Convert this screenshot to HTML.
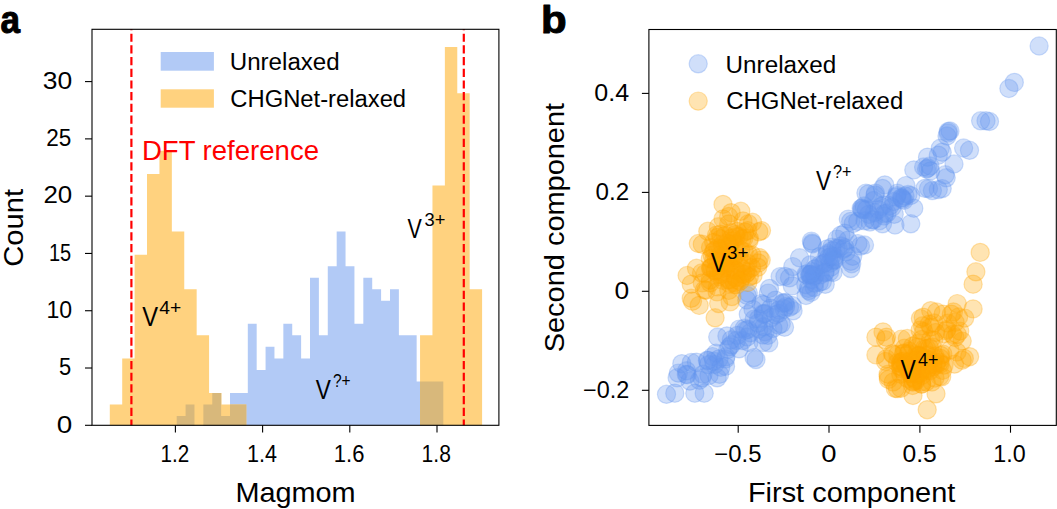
<!DOCTYPE html>
<html><head><meta charset="utf-8"><style>
html,body{margin:0;padding:0;background:#fff;}
svg{display:block;}
text{font-family:"Liberation Sans",sans-serif;}
</style></head><body>
<svg width="1057" height="509" viewBox="0 0 1057 509">
<rect width="1057" height="509" fill="#fff"/>
<defs><clipPath id="ca"><rect x="92.00" y="29.30" width="406.90" height="396.00"/></clipPath>
<clipPath id="cb"><rect x="648.90" y="29.50" width="407.40" height="395.90"/></clipPath></defs>
<g clip-path="url(#ca)"><path d="M176.70 416.05H185.59V426.30H176.70ZM185.59 404.52H194.47V426.30H185.59ZM203.36 404.52H212.25V426.30H203.36ZM212.25 392.99H221.13V426.30H212.25ZM221.13 416.05H230.02V426.30H221.13ZM230.02 392.99H238.91V426.30H230.02ZM238.91 392.99H247.80V426.30H238.91ZM247.80 323.81H256.68V426.30H247.80ZM256.68 369.93H265.57V426.30H256.68ZM265.57 346.87H274.46V426.30H265.57ZM274.46 358.40H283.34V426.30H274.46ZM283.34 323.81H292.23V426.30H283.34ZM292.23 335.34H301.12V426.30H292.23ZM301.12 358.40H310.00V426.30H301.12ZM310.00 277.69H318.89V426.30H310.00ZM318.89 335.34H327.78V426.30H318.89ZM327.78 266.16H336.67V426.30H327.78ZM336.67 231.57H345.55V426.30H336.67ZM345.55 266.16H354.44V426.30H345.55ZM354.44 323.81H363.33V426.30H354.44ZM363.33 277.69H372.21V426.30H363.33ZM372.21 289.22H381.10V426.30H372.21ZM381.10 300.75H389.99V426.30H381.10ZM389.99 289.22H398.88V426.30H389.99ZM398.88 335.34H407.76V426.30H398.88ZM407.76 335.34H416.65V426.30H407.76ZM416.65 381.46H425.54V426.30H416.65ZM425.54 381.46H434.42V426.30H425.54ZM434.42 381.46H443.31V426.30H434.42Z" fill="#b2caf6"/><path d="M109.80 404.52H122.21V426.30H109.80ZM122.21 358.40H134.62V426.30H122.21ZM134.62 254.63H147.03V426.30H134.62ZM147.03 173.92H159.44V426.30H147.03ZM159.44 150.86H171.85V426.30H159.44ZM171.85 231.57H184.26V426.30H171.85ZM184.26 289.22H196.67V426.30H184.26ZM196.67 335.34H209.08V426.30H196.67ZM209.08 392.99H221.49V426.30H209.08ZM221.49 404.52H233.90V426.30H221.49ZM233.90 404.52H246.31V426.30H233.90ZM420.05 335.34H432.46V426.30H420.05ZM432.46 185.45H444.87V426.30H432.46ZM444.87 47.09H457.28V426.30H444.87ZM457.28 93.21H469.69V426.30H457.28ZM469.69 289.22H482.10V426.30H469.69Z" fill="#ffd27f"/><path d="M176.70 416.05H184.26V426.30H176.70ZM184.26 416.05H185.59V426.30H184.26ZM185.59 404.52H194.47V426.30H185.59ZM203.36 404.52H209.08V426.30H203.36ZM209.08 404.52H212.25V426.30H209.08ZM212.25 392.99H221.13V426.30H212.25ZM221.13 416.05H221.49V426.30H221.13ZM221.49 416.05H230.02V426.30H221.49ZM230.02 404.52H233.90V426.30H230.02ZM233.90 404.52H238.91V426.30H233.90ZM238.91 404.52H246.31V426.30H238.91ZM420.05 381.46H425.54V426.30H420.05ZM425.54 381.46H432.46V426.30H425.54ZM432.46 381.46H434.42V426.30H432.46ZM434.42 381.46H443.31V426.30H434.42Z" fill="#d8b87b"/></g>
<line x1="131.4" y1="427.6" x2="131.4" y2="20" stroke="#ff0000" stroke-width="2.2" stroke-dasharray="8.2 3.49" clip-path="url(#ca)"/>
<line x1="463.8" y1="427.6" x2="463.8" y2="20" stroke="#ff0000" stroke-width="2.2" stroke-dasharray="8.2 3.49" clip-path="url(#ca)"/>
<rect x="92.00" y="29.30" width="406.90" height="396.00" stroke="#000" stroke-width="1.1" fill="none"/>
<line x1="85.00" y1="425.30" x2="92.00" y2="425.30" stroke="#000" stroke-width="1.1"/>
<text x="56.89" y="432.50" font-size="23.00" textLength="15.49" lengthAdjust="spacingAndGlyphs" fill="#000" >0</text>
<line x1="85.00" y1="368.01" x2="92.00" y2="368.01" stroke="#000" stroke-width="1.1"/>
<text x="59.12" y="375.21" font-size="23.00" textLength="12.18" lengthAdjust="spacingAndGlyphs" fill="#000" >5</text>
<line x1="85.00" y1="310.73" x2="92.00" y2="310.73" stroke="#000" stroke-width="1.1"/>
<text x="46.47" y="317.93" font-size="23.00" textLength="25.65" lengthAdjust="spacingAndGlyphs" fill="#000" >10</text>
<line x1="85.00" y1="253.44" x2="92.00" y2="253.44" stroke="#000" stroke-width="1.1"/>
<text x="49.00" y="260.64" font-size="23.00" textLength="22.25" lengthAdjust="spacingAndGlyphs" fill="#000" >15</text>
<line x1="85.00" y1="196.16" x2="92.00" y2="196.16" stroke="#000" stroke-width="1.1"/>
<text x="43.40" y="203.36" font-size="23.00" textLength="28.83" lengthAdjust="spacingAndGlyphs" fill="#000" >20</text>
<line x1="85.00" y1="138.88" x2="92.00" y2="138.88" stroke="#000" stroke-width="1.1"/>
<text x="46.27" y="146.07" font-size="23.00" textLength="25.08" lengthAdjust="spacingAndGlyphs" fill="#000" >25</text>
<line x1="85.00" y1="81.59" x2="92.00" y2="81.59" stroke="#000" stroke-width="1.1"/>
<text x="42.81" y="88.79" font-size="23.00" textLength="29.45" lengthAdjust="spacingAndGlyphs" fill="#000" >30</text>
<line x1="175.40" y1="425.30" x2="175.40" y2="432.60" stroke="#000" stroke-width="1.1"/>
<text x="160.45" y="462.20" font-size="23.00" textLength="28.68" lengthAdjust="spacingAndGlyphs" fill="#000" >1.2</text>
<line x1="262.60" y1="425.30" x2="262.60" y2="432.60" stroke="#000" stroke-width="1.1"/>
<text x="247.09" y="462.20" font-size="23.00" textLength="29.91" lengthAdjust="spacingAndGlyphs" fill="#000" >1.4</text>
<line x1="349.80" y1="425.30" x2="349.80" y2="432.60" stroke="#000" stroke-width="1.1"/>
<text x="333.85" y="462.20" font-size="23.00" textLength="30.59" lengthAdjust="spacingAndGlyphs" fill="#000" >1.6</text>
<line x1="437.00" y1="425.30" x2="437.00" y2="432.60" stroke="#000" stroke-width="1.1"/>
<text x="421.62" y="462.20" font-size="23.00" textLength="29.28" lengthAdjust="spacingAndGlyphs" fill="#000" >1.8</text>
<text x="235.42" y="501.80" font-size="27.30" textLength="120.26" lengthAdjust="spacingAndGlyphs" fill="#000" >Magmom</text>
<text transform="translate(23.20,266.66) rotate(-90)" x="0" y="0" font-size="27.30" textLength="77.71" lengthAdjust="spacingAndGlyphs">Count</text>
<text x="0.55" y="32.90" font-size="38.50" textLength="19.53" lengthAdjust="spacingAndGlyphs" fill="#000" font-weight="bold"  stroke="#000" stroke-width="1.00" stroke-linejoin="round">a</text>
<rect x="160.7" y="52" width="53.2" height="18.7" fill="#b2caf6"/>
<rect x="160.7" y="89.3" width="53.2" height="18.4" fill="#ffd27f"/>
<text x="229.73" y="70.10" font-size="23.00" textLength="110.00" lengthAdjust="spacingAndGlyphs" fill="#000" >Unrelaxed</text>
<text x="230.31" y="106.90" font-size="23.00" textLength="175.81" lengthAdjust="spacingAndGlyphs" fill="#000" >CHGNet-relaxed</text>
<text x="141.93" y="159.70" font-size="28.00" textLength="177.07" lengthAdjust="spacingAndGlyphs" fill="#ff0000" >DFT reference</text>
<text x="142.18" y="325.60" font-size="27.30" textLength="15.83" lengthAdjust="spacingAndGlyphs" fill="#000" >V</text><text x="159.17" y="314.20" font-size="18.00" textLength="22.00" lengthAdjust="spacingAndGlyphs" fill="#000" >4+</text>
<text x="407.59" y="237.60" font-size="27.30" textLength="14.30" lengthAdjust="spacingAndGlyphs" fill="#000" >V</text><text x="424.62" y="225.60" font-size="18.00" textLength="20.80" lengthAdjust="spacingAndGlyphs" fill="#000" >3+</text>
<text x="315.69" y="399.30" font-size="27.30" textLength="15.12" lengthAdjust="spacingAndGlyphs" fill="#000" >V</text><text x="332.88" y="386.80" font-size="18.00" textLength="17.70" lengthAdjust="spacingAndGlyphs" fill="#000" >?+</text>
<g clip-path="url(#cb)" fill="#6495ed" fill-opacity="0.30" stroke="#6495ed" stroke-opacity="0.30" stroke-width="1.2"><circle cx="1039.1" cy="46.0" r="9.1"/><circle cx="1014.3" cy="82.4" r="9.1"/><circle cx="1008.9" cy="88.5" r="9.1"/><circle cx="980.6" cy="120.8" r="9.1"/><circle cx="986.0" cy="120.8" r="9.1"/><circle cx="989.5" cy="121.5" r="9.1"/><circle cx="948.3" cy="131.4" r="9.1"/><circle cx="947.0" cy="136.0" r="9.1"/><circle cx="963.6" cy="148.0" r="9.1"/><circle cx="969.5" cy="150.3" r="9.1"/><circle cx="940.3" cy="148.3" r="9.1"/><circle cx="942.2" cy="152.2" r="9.1"/><circle cx="938.3" cy="155.2" r="9.1"/><circle cx="927.5" cy="157.2" r="9.1"/><circle cx="954.0" cy="164.0" r="9.1"/><circle cx="913.8" cy="169.9" r="9.1"/><circle cx="926.5" cy="169.0" r="9.1"/><circle cx="930.5" cy="170.9" r="9.1"/><circle cx="923.6" cy="167.0" r="9.1"/><circle cx="945.2" cy="174.8" r="9.1"/><circle cx="946.2" cy="177.8" r="9.1"/><circle cx="905.9" cy="185.6" r="9.1"/><circle cx="928.5" cy="188.6" r="9.1"/><circle cx="932.4" cy="190.6" r="9.1"/><circle cx="938.3" cy="189.6" r="9.1"/><circle cx="942.2" cy="188.6" r="9.1"/><circle cx="907.9" cy="194.5" r="9.1"/><circle cx="903.9" cy="200.4" r="9.1"/><circle cx="913.8" cy="208.2" r="9.1"/><circle cx="924.9" cy="188.4" r="9.1"/><circle cx="884.8" cy="184.9" r="9.1"/><circle cx="882.5" cy="188.4" r="9.1"/><circle cx="865.9" cy="193.1" r="9.1"/><circle cx="875.4" cy="193.1" r="9.1"/><circle cx="910.8" cy="195.5" r="9.1"/><circle cx="901.3" cy="197.8" r="9.1"/><circle cx="910.8" cy="223.8" r="9.1"/><circle cx="861.2" cy="208.4" r="9.1"/><circle cx="863.6" cy="209.6" r="9.1"/><circle cx="891.9" cy="207.3" r="9.1"/><circle cx="894.2" cy="214.3" r="9.1"/><circle cx="848.3" cy="219.1" r="9.1"/><circle cx="857.7" cy="221.4" r="9.1"/><circle cx="882.5" cy="223.8" r="9.1"/><circle cx="844.7" cy="233.2" r="9.1"/><circle cx="811.4" cy="241.1" r="9.1"/><circle cx="812.4" cy="244.0" r="9.1"/><circle cx="799.6" cy="257.8" r="9.1"/><circle cx="792.8" cy="266.6" r="9.1"/><circle cx="784.9" cy="276.4" r="9.1"/><circle cx="850.7" cy="268.6" r="9.1"/><circle cx="851.7" cy="263.7" r="9.1"/><circle cx="864.5" cy="245.0" r="9.1"/><circle cx="860.5" cy="246.0" r="9.1"/><circle cx="850.7" cy="221.4" r="9.1"/><circle cx="866.4" cy="209.6" r="9.1"/><circle cx="840.9" cy="235.2" r="9.1"/><circle cx="837.0" cy="239.1" r="9.1"/><circle cx="827.2" cy="248.9" r="9.1"/><circle cx="819.3" cy="256.8" r="9.1"/><circle cx="815.4" cy="268.6" r="9.1"/><circle cx="809.5" cy="274.5" r="9.1"/><circle cx="819.3" cy="282.3" r="9.1"/><circle cx="833.0" cy="272.5" r="9.1"/><circle cx="825.2" cy="284.3" r="9.1"/><circle cx="868.4" cy="193.9" r="9.1"/><circle cx="748.3" cy="293.1" r="9.1"/><circle cx="747.1" cy="295.5" r="9.1"/><circle cx="769.5" cy="288.4" r="9.1"/><circle cx="780.1" cy="276.6" r="9.1"/><circle cx="789.5" cy="277.8" r="9.1"/><circle cx="806.0" cy="274.2" r="9.1"/><circle cx="808.4" cy="288.4" r="9.1"/><circle cx="806.0" cy="295.5" r="9.1"/><circle cx="789.5" cy="307.3" r="9.1"/><circle cx="793.1" cy="310.8" r="9.1"/><circle cx="775.4" cy="300.2" r="9.1"/><circle cx="768.3" cy="293.1" r="9.1"/><circle cx="781.3" cy="323.8" r="9.1"/><circle cx="748.3" cy="314.3" r="9.1"/><circle cx="754.2" cy="319.1" r="9.1"/><circle cx="763.6" cy="314.3" r="9.1"/><circle cx="773.0" cy="328.5" r="9.1"/><circle cx="822.5" cy="281.3" r="9.1"/><circle cx="829.6" cy="271.9" r="9.1"/><circle cx="820.2" cy="264.8" r="9.1"/><circle cx="832.0" cy="250.7" r="9.1"/><circle cx="841.4" cy="245.9" r="9.1"/><circle cx="850.8" cy="261.3" r="9.1"/><circle cx="853.2" cy="223.5" r="9.1"/><circle cx="857.9" cy="243.6" r="9.1"/><circle cx="717.7" cy="337.0" r="9.1"/><circle cx="754.0" cy="357.6" r="9.1"/><circle cx="756.0" cy="359.6" r="9.1"/><circle cx="768.8" cy="342.9" r="9.1"/><circle cx="784.5" cy="327.2" r="9.1"/><circle cx="792.3" cy="305.5" r="9.1"/><circle cx="792.3" cy="285.9" r="9.1"/><circle cx="707.9" cy="360.6" r="9.1"/><circle cx="714.7" cy="364.5" r="9.1"/><circle cx="703.0" cy="374.3" r="9.1"/><circle cx="719.6" cy="374.3" r="9.1"/><circle cx="725.5" cy="366.4" r="9.1"/><circle cx="729.5" cy="346.8" r="9.1"/><circle cx="739.3" cy="329.1" r="9.1"/><circle cx="753.0" cy="309.5" r="9.1"/><circle cx="760.9" cy="303.6" r="9.1"/><circle cx="747.2" cy="337.0" r="9.1"/><circle cx="758.9" cy="329.1" r="9.1"/><circle cx="762.9" cy="335.0" r="9.1"/><circle cx="778.6" cy="325.2" r="9.1"/><circle cx="778.6" cy="313.4" r="9.1"/><circle cx="666.5" cy="394.3" r="9.1"/><circle cx="674.8" cy="393.2" r="9.1"/><circle cx="694.8" cy="393.2" r="9.1"/><circle cx="704.2" cy="393.2" r="9.1"/><circle cx="677.1" cy="377.8" r="9.1"/><circle cx="681.8" cy="363.7" r="9.1"/><circle cx="691.3" cy="362.5" r="9.1"/><circle cx="686.6" cy="370.8" r="9.1"/><circle cx="678.3" cy="373.1" r="9.1"/><circle cx="699.5" cy="380.2" r="9.1"/><circle cx="701.9" cy="377.8" r="9.1"/><circle cx="709.0" cy="375.5" r="9.1"/><circle cx="717.2" cy="377.8" r="9.1"/><circle cx="713.7" cy="361.3" r="9.1"/><circle cx="712.5" cy="356.6" r="9.1"/><circle cx="716.0" cy="353.1" r="9.1"/><circle cx="720.8" cy="367.2" r="9.1"/><circle cx="725.5" cy="359.0" r="9.1"/><circle cx="727.8" cy="349.5" r="9.1"/><circle cx="731.4" cy="344.8" r="9.1"/><circle cx="737.3" cy="335.4" r="9.1"/><circle cx="744.3" cy="328.3" r="9.1"/><circle cx="749.0" cy="342.5" r="9.1"/><circle cx="758.5" cy="318.9" r="9.1"/><circle cx="763.2" cy="342.5" r="9.1"/><circle cx="767.9" cy="335.4" r="9.1"/><circle cx="746.7" cy="300.0" r="9.1"/><circle cx="763.2" cy="304.7" r="9.1"/><circle cx="834.4" cy="260.1" r="9.1"/><circle cx="836.1" cy="248.3" r="9.1"/><circle cx="814.3" cy="269.3" r="9.1"/><circle cx="810.9" cy="292.4" r="9.1"/><circle cx="838.2" cy="248.5" r="9.1"/><circle cx="820.2" cy="274.9" r="9.1"/><circle cx="812.5" cy="271.6" r="9.1"/><circle cx="830.7" cy="267.2" r="9.1"/><circle cx="847.9" cy="240.3" r="9.1"/><circle cx="827.5" cy="253.5" r="9.1"/><circle cx="813.7" cy="276.3" r="9.1"/><circle cx="833.7" cy="260.6" r="9.1"/><circle cx="805.8" cy="284.6" r="9.1"/><circle cx="823.7" cy="263.7" r="9.1"/><circle cx="833.8" cy="259.2" r="9.1"/><circle cx="825.3" cy="262.6" r="9.1"/><circle cx="810.2" cy="274.9" r="9.1"/><circle cx="810.6" cy="274.5" r="9.1"/><circle cx="808.9" cy="290.6" r="9.1"/><circle cx="811.5" cy="279.6" r="9.1"/><circle cx="844.9" cy="247.7" r="9.1"/><circle cx="843.4" cy="249.2" r="9.1"/><circle cx="831.8" cy="247.1" r="9.1"/><circle cx="829.9" cy="263.2" r="9.1"/><circle cx="852.7" cy="256.3" r="9.1"/><circle cx="826.8" cy="255.0" r="9.1"/><circle cx="824.9" cy="272.0" r="9.1"/><circle cx="814.7" cy="283.1" r="9.1"/><circle cx="824.9" cy="272.8" r="9.1"/><circle cx="828.7" cy="257.6" r="9.1"/><circle cx="831.7" cy="256.3" r="9.1"/><circle cx="806.7" cy="275.2" r="9.1"/><circle cx="814.9" cy="275.4" r="9.1"/><circle cx="814.2" cy="287.5" r="9.1"/><circle cx="811.3" cy="274.0" r="9.1"/><circle cx="810.1" cy="265.0" r="9.1"/><circle cx="834.4" cy="256.8" r="9.1"/><circle cx="846.0" cy="251.9" r="9.1"/><circle cx="782.6" cy="303.3" r="9.1"/><circle cx="739.1" cy="348.8" r="9.1"/><circle cx="784.4" cy="302.4" r="9.1"/><circle cx="736.4" cy="340.5" r="9.1"/><circle cx="763.3" cy="313.5" r="9.1"/><circle cx="748.1" cy="329.4" r="9.1"/><circle cx="742.6" cy="340.6" r="9.1"/><circle cx="784.0" cy="308.8" r="9.1"/><circle cx="763.8" cy="326.8" r="9.1"/><circle cx="775.6" cy="314.7" r="9.1"/><circle cx="750.2" cy="332.8" r="9.1"/><circle cx="726.9" cy="335.9" r="9.1"/><circle cx="765.0" cy="313.5" r="9.1"/><circle cx="765.1" cy="331.7" r="9.1"/><circle cx="745.5" cy="330.3" r="9.1"/><circle cx="770.9" cy="317.8" r="9.1"/><circle cx="758.1" cy="323.2" r="9.1"/><circle cx="785.7" cy="306.6" r="9.1"/><circle cx="785.4" cy="303.0" r="9.1"/><circle cx="770.7" cy="308.2" r="9.1"/><circle cx="731.3" cy="339.8" r="9.1"/><circle cx="778.6" cy="310.0" r="9.1"/><circle cx="883.7" cy="204.9" r="9.1"/><circle cx="873.7" cy="200.5" r="9.1"/><circle cx="865.0" cy="220.8" r="9.1"/><circle cx="873.6" cy="219.7" r="9.1"/><circle cx="872.4" cy="219.7" r="9.1"/><circle cx="884.5" cy="213.7" r="9.1"/><circle cx="862.2" cy="209.5" r="9.1"/><circle cx="879.5" cy="220.7" r="9.1"/><circle cx="878.6" cy="209.6" r="9.1"/><circle cx="896.9" cy="195.6" r="9.1"/><circle cx="881.3" cy="206.4" r="9.1"/><circle cx="896.4" cy="197.0" r="9.1"/><circle cx="897.4" cy="193.3" r="9.1"/><circle cx="874.4" cy="212.6" r="9.1"/><circle cx="902.4" cy="199.4" r="9.1"/><circle cx="893.8" cy="201.5" r="9.1"/><circle cx="890.0" cy="205.7" r="9.1"/><circle cx="868.8" cy="214.4" r="9.1"/><circle cx="686.3" cy="374.4" r="9.1"/><circle cx="687.2" cy="374.7" r="9.1"/><circle cx="719.0" cy="358.9" r="9.1"/><circle cx="696.4" cy="362.2" r="9.1"/><circle cx="707.4" cy="360.2" r="9.1"/><circle cx="725.9" cy="356.8" r="9.1"/><circle cx="708.5" cy="364.6" r="9.1"/><circle cx="689.9" cy="381.1" r="9.1"/><circle cx="862.0" cy="208.0" r="9.1"/><circle cx="864.0" cy="206.0" r="9.1"/><circle cx="887.0" cy="213.0" r="9.1"/><circle cx="884.0" cy="216.0" r="9.1"/><circle cx="902.0" cy="198.0" r="9.1"/><circle cx="905.0" cy="196.0" r="9.1"/><circle cx="875.0" cy="195.0" r="9.1"/><circle cx="895.0" cy="225.0" r="9.1"/><circle cx="870.0" cy="222.0" r="9.1"/><circle cx="812.0" cy="243.0" r="9.1"/><circle cx="948.0" cy="133.0" r="9.1"/><circle cx="950.0" cy="131.0" r="9.1"/><circle cx="928.0" cy="168.0" r="9.1"/><circle cx="930.0" cy="166.0" r="9.1"/></g>
<g clip-path="url(#cb)" fill="#ffa500" fill-opacity="0.30" stroke="#ffa500" stroke-opacity="0.30" stroke-width="1.2"><circle cx="723.0" cy="204.4" r="9.1"/><circle cx="740.8" cy="211.3" r="9.1"/><circle cx="731.2" cy="212.7" r="9.1"/><circle cx="723.0" cy="218.9" r="9.1"/><circle cx="752.5" cy="222.3" r="9.1"/><circle cx="707.8" cy="231.3" r="9.1"/><circle cx="761.5" cy="230.6" r="9.1"/><circle cx="702.3" cy="244.3" r="9.1"/><circle cx="687.1" cy="275.5" r="9.1"/><circle cx="698.3" cy="243.5" r="9.1"/><circle cx="696.5" cy="268.3" r="9.1"/><circle cx="691.2" cy="284.2" r="9.1"/><circle cx="691.2" cy="298.3" r="9.1"/><circle cx="699.2" cy="305.4" r="9.1"/><circle cx="715.1" cy="317.8" r="9.1"/><circle cx="718.6" cy="303.6" r="9.1"/><circle cx="730.1" cy="301.9" r="9.1"/><circle cx="731.9" cy="296.6" r="9.1"/><circle cx="758.4" cy="263.0" r="9.1"/><circle cx="753.1" cy="275.3" r="9.1"/><circle cx="747.8" cy="282.4" r="9.1"/><circle cx="759.3" cy="257.7" r="9.1"/><circle cx="758.9" cy="231.8" r="9.1"/><circle cx="761.2" cy="260.1" r="9.1"/><circle cx="757.7" cy="267.2" r="9.1"/><circle cx="749.4" cy="276.6" r="9.1"/><circle cx="692.5" cy="301.2" r="9.1"/><circle cx="980.2" cy="252.4" r="9.1"/><circle cx="975.9" cy="271.8" r="9.1"/><circle cx="973.1" cy="284.2" r="9.1"/><circle cx="973.1" cy="308.9" r="9.1"/><circle cx="957.2" cy="303.6" r="9.1"/><circle cx="930.7" cy="310.7" r="9.1"/><circle cx="943.1" cy="314.2" r="9.1"/><circle cx="883.0" cy="331.9" r="9.1"/><circle cx="886.5" cy="337.2" r="9.1"/><circle cx="875.9" cy="337.2" r="9.1"/><circle cx="875.9" cy="354.9" r="9.1"/><circle cx="969.6" cy="356.7" r="9.1"/><circle cx="964.3" cy="358.4" r="9.1"/><circle cx="920.1" cy="330.1" r="9.1"/><circle cx="927.2" cy="409.7" r="9.1"/><circle cx="913.0" cy="395.5" r="9.1"/><circle cx="936.0" cy="393.8" r="9.1"/><circle cx="895.3" cy="388.5" r="9.1"/><circle cx="964.7" cy="318.1" r="9.1"/><circle cx="922.6" cy="325.8" r="9.1"/><circle cx="885.5" cy="339.8" r="9.1"/><circle cx="907.3" cy="338.5" r="9.1"/><circle cx="962.2" cy="341.1" r="9.1"/><circle cx="962.2" cy="360.2" r="9.1"/><circle cx="954.5" cy="364.1" r="9.1"/><circle cx="893.2" cy="382.0" r="9.1"/><circle cx="900.9" cy="388.3" r="9.1"/><circle cx="941.7" cy="376.8" r="9.1"/><circle cx="888.1" cy="374.3" r="9.1"/><circle cx="885.5" cy="361.5" r="9.1"/><circle cx="950.0" cy="350.0" r="9.1"/><circle cx="957.0" cy="352.0" r="9.1"/><circle cx="722.6" cy="280.4" r="9.1"/><circle cx="706.2" cy="290.3" r="9.1"/><circle cx="728.8" cy="290.4" r="9.1"/><circle cx="713.7" cy="242.4" r="9.1"/><circle cx="731.2" cy="232.6" r="9.1"/><circle cx="732.5" cy="241.0" r="9.1"/><circle cx="737.3" cy="231.4" r="9.1"/><circle cx="717.1" cy="291.9" r="9.1"/><circle cx="729.6" cy="283.6" r="9.1"/><circle cx="736.2" cy="270.3" r="9.1"/><circle cx="710.5" cy="267.9" r="9.1"/><circle cx="702.2" cy="282.9" r="9.1"/><circle cx="717.5" cy="237.4" r="9.1"/><circle cx="734.5" cy="282.6" r="9.1"/><circle cx="717.3" cy="286.9" r="9.1"/><circle cx="743.8" cy="238.5" r="9.1"/><circle cx="710.9" cy="267.9" r="9.1"/><circle cx="735.1" cy="270.2" r="9.1"/><circle cx="705.3" cy="273.6" r="9.1"/><circle cx="734.8" cy="284.4" r="9.1"/><circle cx="744.2" cy="251.6" r="9.1"/><circle cx="749.1" cy="240.7" r="9.1"/><circle cx="701.5" cy="273.0" r="9.1"/><circle cx="711.8" cy="267.2" r="9.1"/><circle cx="752.0" cy="255.0" r="9.1"/><circle cx="713.9" cy="260.1" r="9.1"/><circle cx="736.1" cy="236.7" r="9.1"/><circle cx="720.9" cy="238.8" r="9.1"/><circle cx="736.4" cy="284.8" r="9.1"/><circle cx="720.7" cy="254.5" r="9.1"/><circle cx="729.7" cy="244.2" r="9.1"/><circle cx="713.6" cy="251.8" r="9.1"/><circle cx="725.2" cy="235.4" r="9.1"/><circle cx="741.4" cy="268.2" r="9.1"/><circle cx="716.5" cy="235.1" r="9.1"/><circle cx="742.0" cy="238.7" r="9.1"/><circle cx="704.5" cy="289.8" r="9.1"/><circle cx="714.8" cy="250.2" r="9.1"/><circle cx="745.8" cy="270.9" r="9.1"/><circle cx="710.3" cy="258.7" r="9.1"/><circle cx="748.6" cy="254.8" r="9.1"/><circle cx="739.1" cy="236.4" r="9.1"/><circle cx="740.0" cy="281.2" r="9.1"/><circle cx="745.4" cy="274.5" r="9.1"/><circle cx="720.4" cy="234.2" r="9.1"/><circle cx="728.5" cy="280.0" r="9.1"/><circle cx="710.5" cy="247.6" r="9.1"/><circle cx="729.5" cy="279.4" r="9.1"/><circle cx="749.3" cy="238.3" r="9.1"/><circle cx="710.1" cy="282.8" r="9.1"/><circle cx="735.4" cy="277.6" r="9.1"/><circle cx="721.7" cy="272.3" r="9.1"/><circle cx="710.1" cy="280.1" r="9.1"/><circle cx="741.7" cy="277.6" r="9.1"/><circle cx="724.5" cy="255.0" r="9.1"/><circle cx="748.3" cy="223.8" r="9.1"/><circle cx="728.7" cy="223.9" r="9.1"/><circle cx="743.0" cy="220.9" r="9.1"/><circle cx="747.7" cy="230.6" r="9.1"/><circle cx="728.7" cy="216.5" r="9.1"/><circle cx="744.7" cy="231.9" r="9.1"/><circle cx="718.4" cy="226.8" r="9.1"/><circle cx="740.7" cy="250.0" r="9.1"/><circle cx="737.3" cy="279.8" r="9.1"/><circle cx="727.6" cy="252.2" r="9.1"/><circle cx="733.1" cy="260.0" r="9.1"/><circle cx="720.1" cy="266.0" r="9.1"/><circle cx="728.8" cy="246.4" r="9.1"/><circle cx="734.5" cy="243.8" r="9.1"/><circle cx="718.8" cy="276.6" r="9.1"/><circle cx="721.0" cy="274.1" r="9.1"/><circle cx="747.8" cy="263.4" r="9.1"/><circle cx="728.8" cy="252.3" r="9.1"/><circle cx="716.1" cy="260.5" r="9.1"/><circle cx="747.3" cy="272.5" r="9.1"/><circle cx="720.6" cy="248.9" r="9.1"/><circle cx="725.5" cy="263.8" r="9.1"/><circle cx="728.7" cy="262.8" r="9.1"/><circle cx="734.3" cy="256.1" r="9.1"/><circle cx="730.6" cy="262.7" r="9.1"/><circle cx="730.1" cy="266.5" r="9.1"/><circle cx="751.6" cy="267.7" r="9.1"/><circle cx="731.6" cy="238.1" r="9.1"/><circle cx="735.3" cy="234.7" r="9.1"/><circle cx="715.5" cy="271.1" r="9.1"/><circle cx="738.8" cy="258.1" r="9.1"/><circle cx="712.2" cy="255.2" r="9.1"/><circle cx="723.5" cy="268.3" r="9.1"/><circle cx="722.4" cy="244.8" r="9.1"/><circle cx="730.4" cy="257.7" r="9.1"/><circle cx="718.3" cy="261.5" r="9.1"/><circle cx="718.3" cy="274.5" r="9.1"/><circle cx="742.7" cy="274.1" r="9.1"/><circle cx="725.8" cy="266.7" r="9.1"/><circle cx="729.5" cy="254.9" r="9.1"/><circle cx="727.3" cy="243.1" r="9.1"/><circle cx="715.1" cy="270.3" r="9.1"/><circle cx="728.9" cy="262.8" r="9.1"/><circle cx="722.4" cy="262.3" r="9.1"/><circle cx="735.3" cy="255.1" r="9.1"/><circle cx="742.3" cy="262.7" r="9.1"/><circle cx="717.7" cy="247.9" r="9.1"/><circle cx="912.2" cy="377.2" r="9.1"/><circle cx="940.8" cy="355.4" r="9.1"/><circle cx="929.5" cy="347.8" r="9.1"/><circle cx="921.5" cy="381.9" r="9.1"/><circle cx="888.4" cy="379.4" r="9.1"/><circle cx="915.9" cy="360.0" r="9.1"/><circle cx="933.0" cy="366.9" r="9.1"/><circle cx="933.7" cy="340.2" r="9.1"/><circle cx="922.3" cy="369.0" r="9.1"/><circle cx="914.8" cy="373.5" r="9.1"/><circle cx="921.5" cy="339.5" r="9.1"/><circle cx="924.3" cy="348.6" r="9.1"/><circle cx="897.3" cy="388.6" r="9.1"/><circle cx="897.5" cy="362.7" r="9.1"/><circle cx="935.0" cy="378.1" r="9.1"/><circle cx="921.6" cy="384.2" r="9.1"/><circle cx="915.7" cy="372.8" r="9.1"/><circle cx="939.7" cy="376.4" r="9.1"/><circle cx="927.6" cy="359.8" r="9.1"/><circle cx="922.0" cy="359.2" r="9.1"/><circle cx="934.6" cy="358.2" r="9.1"/><circle cx="915.7" cy="381.1" r="9.1"/><circle cx="918.2" cy="355.6" r="9.1"/><circle cx="940.2" cy="358.2" r="9.1"/><circle cx="914.4" cy="378.5" r="9.1"/><circle cx="886.3" cy="358.8" r="9.1"/><circle cx="942.5" cy="370.4" r="9.1"/><circle cx="921.9" cy="375.5" r="9.1"/><circle cx="930.1" cy="370.6" r="9.1"/><circle cx="912.6" cy="346.2" r="9.1"/><circle cx="903.9" cy="352.9" r="9.1"/><circle cx="908.0" cy="362.3" r="9.1"/><circle cx="909.3" cy="370.5" r="9.1"/><circle cx="909.6" cy="351.3" r="9.1"/><circle cx="944.1" cy="365.1" r="9.1"/><circle cx="930.6" cy="339.5" r="9.1"/><circle cx="942.9" cy="354.1" r="9.1"/><circle cx="917.6" cy="347.1" r="9.1"/><circle cx="912.6" cy="385.5" r="9.1"/><circle cx="940.3" cy="363.9" r="9.1"/><circle cx="936.2" cy="362.9" r="9.1"/><circle cx="909.4" cy="368.3" r="9.1"/><circle cx="897.7" cy="354.3" r="9.1"/><circle cx="932.0" cy="382.0" r="9.1"/><circle cx="939.6" cy="362.2" r="9.1"/><circle cx="888.2" cy="376.7" r="9.1"/><circle cx="900.7" cy="374.2" r="9.1"/><circle cx="909.6" cy="373.9" r="9.1"/><circle cx="901.6" cy="364.1" r="9.1"/><circle cx="919.7" cy="373.5" r="9.1"/><circle cx="903.7" cy="353.7" r="9.1"/><circle cx="901.4" cy="339.1" r="9.1"/><circle cx="912.8" cy="382.1" r="9.1"/><circle cx="932.3" cy="346.9" r="9.1"/><circle cx="893.3" cy="354.6" r="9.1"/><circle cx="936.2" cy="364.8" r="9.1"/><circle cx="926.2" cy="381.8" r="9.1"/><circle cx="935.0" cy="356.0" r="9.1"/><circle cx="901.5" cy="361.7" r="9.1"/><circle cx="917.3" cy="343.6" r="9.1"/><circle cx="935.7" cy="332.5" r="9.1"/><circle cx="923.2" cy="317.2" r="9.1"/><circle cx="936.5" cy="312.0" r="9.1"/><circle cx="923.7" cy="331.5" r="9.1"/><circle cx="934.1" cy="323.0" r="9.1"/><circle cx="953.4" cy="311.9" r="9.1"/><circle cx="946.2" cy="330.8" r="9.1"/><circle cx="951.3" cy="314.2" r="9.1"/><circle cx="920.4" cy="318.6" r="9.1"/><circle cx="943.8" cy="333.6" r="9.1"/><circle cx="946.9" cy="329.5" r="9.1"/><circle cx="959.8" cy="331.1" r="9.1"/><circle cx="930.8" cy="327.1" r="9.1"/><circle cx="947.6" cy="323.1" r="9.1"/><circle cx="955.0" cy="337.5" r="9.1"/><circle cx="929.3" cy="324.2" r="9.1"/><circle cx="958.6" cy="317.0" r="9.1"/><circle cx="957.2" cy="334.3" r="9.1"/><circle cx="955.1" cy="322.3" r="9.1"/><circle cx="952.6" cy="334.5" r="9.1"/><circle cx="924.7" cy="369.2" r="9.1"/><circle cx="905.2" cy="364.8" r="9.1"/><circle cx="911.4" cy="371.0" r="9.1"/><circle cx="921.9" cy="383.7" r="9.1"/><circle cx="927.8" cy="368.4" r="9.1"/><circle cx="916.9" cy="373.7" r="9.1"/><circle cx="906.0" cy="364.6" r="9.1"/><circle cx="910.9" cy="364.5" r="9.1"/><circle cx="915.6" cy="379.8" r="9.1"/><circle cx="912.6" cy="381.2" r="9.1"/><circle cx="900.4" cy="363.0" r="9.1"/><circle cx="910.4" cy="373.7" r="9.1"/><circle cx="926.6" cy="348.4" r="9.1"/><circle cx="901.1" cy="368.7" r="9.1"/><circle cx="904.4" cy="348.3" r="9.1"/><circle cx="926.5" cy="370.4" r="9.1"/><circle cx="919.4" cy="359.8" r="9.1"/><circle cx="926.4" cy="362.4" r="9.1"/><circle cx="927.3" cy="355.0" r="9.1"/><circle cx="901.9" cy="367.3" r="9.1"/><circle cx="903.9" cy="372.4" r="9.1"/><circle cx="916.4" cy="354.8" r="9.1"/><circle cx="913.9" cy="361.1" r="9.1"/><circle cx="924.9" cy="358.0" r="9.1"/><circle cx="907.3" cy="378.3" r="9.1"/><circle cx="913.8" cy="367.4" r="9.1"/><circle cx="932.9" cy="363.6" r="9.1"/><circle cx="900.3" cy="366.3" r="9.1"/><circle cx="918.9" cy="355.9" r="9.1"/><circle cx="921.7" cy="356.7" r="9.1"/><circle cx="911.2" cy="367.3" r="9.1"/><circle cx="921.0" cy="361.3" r="9.1"/><circle cx="919.5" cy="355.2" r="9.1"/><circle cx="908.3" cy="353.7" r="9.1"/><circle cx="927.7" cy="364.7" r="9.1"/><circle cx="903.4" cy="361.1" r="9.1"/><circle cx="910.1" cy="372.7" r="9.1"/><circle cx="892.3" cy="353.6" r="9.1"/><circle cx="925.4" cy="363.8" r="9.1"/><circle cx="910.0" cy="361.0" r="9.1"/></g>
<rect x="648.90" y="29.50" width="407.40" height="395.90" stroke="#000" stroke-width="1.1" fill="none"/>
<line x1="641.90" y1="93.40" x2="648.90" y2="93.40" stroke="#000" stroke-width="1.1"/>
<text x="594.30" y="100.60" font-size="23.00" textLength="34.79" lengthAdjust="spacingAndGlyphs" fill="#000" >0.4</text>
<line x1="641.90" y1="192.40" x2="648.90" y2="192.40" stroke="#000" stroke-width="1.1"/>
<text x="595.63" y="199.60" font-size="23.00" textLength="33.58" lengthAdjust="spacingAndGlyphs" fill="#000" >0.2</text>
<line x1="641.90" y1="291.30" x2="648.90" y2="291.30" stroke="#000" stroke-width="1.1"/>
<text x="614.64" y="298.50" font-size="23.00" textLength="14.68" lengthAdjust="spacingAndGlyphs" fill="#000" >0</text>
<line x1="641.90" y1="390.30" x2="648.90" y2="390.30" stroke="#000" stroke-width="1.1"/>
<text x="583.03" y="397.50" font-size="23.00" textLength="46.18" lengthAdjust="spacingAndGlyphs" fill="#000" >−0.2</text>
<line x1="738.20" y1="425.40" x2="738.20" y2="432.70" stroke="#000" stroke-width="1.1"/>
<text x="714.30" y="462.30" font-size="23.00" textLength="47.19" lengthAdjust="spacingAndGlyphs" fill="#000" >−0.5</text>
<line x1="829.00" y1="425.40" x2="829.00" y2="432.70" stroke="#000" stroke-width="1.1"/>
<text x="821.30" y="462.30" font-size="23.00" textLength="15.26" lengthAdjust="spacingAndGlyphs" fill="#000" >0</text>
<line x1="919.90" y1="425.40" x2="919.90" y2="432.70" stroke="#000" stroke-width="1.1"/>
<text x="902.51" y="462.30" font-size="23.00" textLength="34.28" lengthAdjust="spacingAndGlyphs" fill="#000" >0.5</text>
<line x1="1010.50" y1="425.40" x2="1010.50" y2="432.70" stroke="#000" stroke-width="1.1"/>
<text x="993.36" y="462.30" font-size="23.00" textLength="32.32" lengthAdjust="spacingAndGlyphs" fill="#000" >1.0</text>
<text x="747.91" y="502.10" font-size="27.30" textLength="207.39" lengthAdjust="spacingAndGlyphs" fill="#000" >First component</text>
<text transform="translate(564.20,352.30) rotate(-90)" x="0" y="0" font-size="27.30" textLength="249.42" lengthAdjust="spacingAndGlyphs">Second component</text>
<text x="541.07" y="33.00" font-size="38.00" textLength="25.64" lengthAdjust="spacingAndGlyphs" fill="#000" font-weight="bold"  stroke="#000" stroke-width="1.00" stroke-linejoin="round">b</text>
<circle cx="698.2" cy="63.8" r="9.1" fill="#6495ed" fill-opacity="0.30" stroke="#6495ed" stroke-opacity="0.30" stroke-width="1.2"/>
<circle cx="698.2" cy="101.1" r="9.1" fill="#ffa500" fill-opacity="0.30" stroke="#ffa500" stroke-opacity="0.30" stroke-width="1.2"/>
<text x="725.62" y="73.00" font-size="23.00" textLength="110.51" lengthAdjust="spacingAndGlyphs" fill="#000" >Unrelaxed</text>
<text x="726.30" y="109.30" font-size="23.00" textLength="176.92" lengthAdjust="spacingAndGlyphs" fill="#000" >CHGNet-relaxed</text>
<text x="816.09" y="190.10" font-size="27.30" textLength="15.12" lengthAdjust="spacingAndGlyphs" fill="#000" >V</text><text x="833.05" y="177.60" font-size="18.00" textLength="18.57" lengthAdjust="spacingAndGlyphs" fill="#000" >?+</text>
<text x="710.78" y="271.50" font-size="27.30" textLength="15.62" lengthAdjust="spacingAndGlyphs" fill="#000" >V</text><text x="726.99" y="258.90" font-size="18.00" textLength="21.45" lengthAdjust="spacingAndGlyphs" fill="#000" >3+</text>
<text x="900.59" y="378.60" font-size="27.30" textLength="15.32" lengthAdjust="spacingAndGlyphs" fill="#000" >V</text><text x="918.00" y="366.30" font-size="18.00" textLength="20.29" lengthAdjust="spacingAndGlyphs" fill="#000" >4+</text>
</svg></body></html>
